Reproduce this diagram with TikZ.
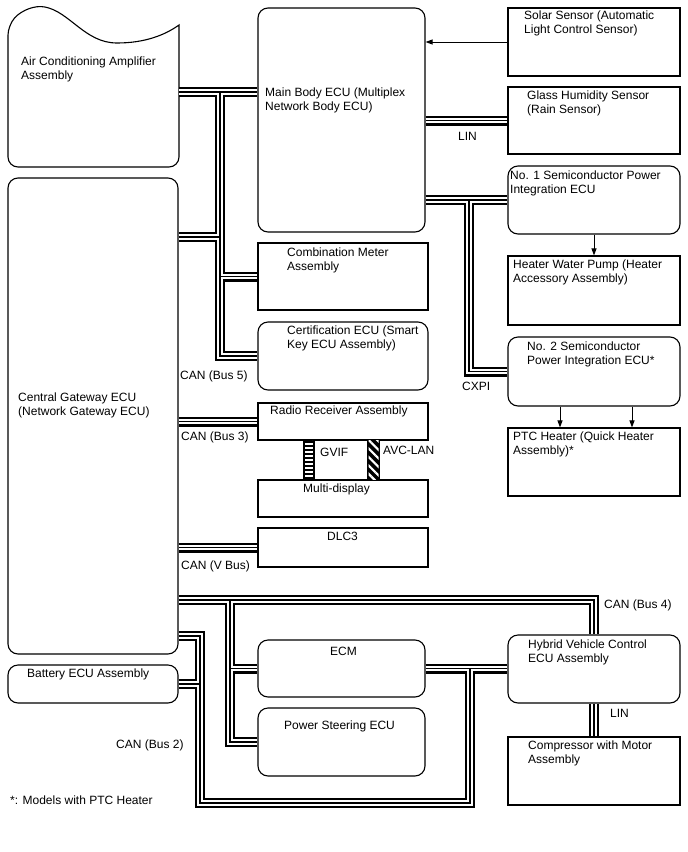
\documentclass[tikz,border=0pt]{standalone}
\usepackage{fontspec}
\setmainfont{Liberation Sans}
\usetikzlibrary{arrows.meta,patterns.meta}

\begin{document}
\begin{tikzpicture}[x=1pt,y=-1pt,font=\fontsize{12}{13.5}\selectfont,
  ecu/.style={draw,line width=1.1pt,rounded corners=10pt,minimum width=170pt,inner sep=0pt},
  unit/.style={draw,line width=1.1pt,minimum width=170pt,inner sep=0pt},
  lbl/.style={anchor=north west,inner sep=0pt,align=left},
  tag/.style={anchor=west,inner sep=0pt},
  sig/.style={line width=1pt,-{Triangle[length=7pt,width=5pt]}},
  busout/.style={line width=10pt},
  busin/.style={white,line width=5.2pt},
  buscore/.style={line width=1.4pt},
  gvifout/.style={line width=12pt},
  gvifin/.style={white,line width=8.5pt},
  gvifrung/.style={line width=8.5pt,dash pattern=on 2pt off 2pt},
]
\useasboundingbox (0,0) rectangle (688,852);
% left column
\node[inner sep=0pt,minimum width=171pt,minimum height=160pt] (acamp) at (93.5,88) {};
\draw[line width=1.1pt] (179,25) [rounded corners=10pt] -- (179,167) -- (8,167) -- (8,25) [sharp corners]
  .. controls (22,10) and (35,5) .. (45,7) .. controls (70,12) and (85,43) .. (117,43)
  .. controls (145,43) and (165,35) .. (179,25) -- cycle;
\node[ecu,minimum height=476pt] (cgw) at (93,416) {};
\node[ecu,minimum height=38pt] (batt) at (93,684) {};
% middle column
\node[ecu,minimum width=167pt,minimum height=224pt] (body) at (341.5,120) {};
\node[unit,minimum height=67pt] (meter) at (343,276.5) {};
\node[ecu,minimum height=68pt] (cert) at (343,356) {};
\node[unit,minimum height=37pt] (radio) at (343,421.5) {};
\node[unit,minimum height=37pt] (multi) at (343,498.5) {};
\node[unit,minimum height=39pt] (dlc) at (343,547.5) {};
\node[ecu,minimum width=167pt,minimum height=57pt] (ecm) at (341.5,668.5) {};
\node[ecu,minimum width=167pt,minimum height=68pt] (eps) at (341.5,742) {};
% right column
\node[unit,minimum width=172pt,minimum height=68pt] (solar) at (594,42) {};
\node[unit,minimum width=172pt,minimum height=67pt] (rain) at (594,120.5) {};
\node[ecu,minimum width=172pt,minimum height=68pt] (spi1) at (594,200) {};
\node[unit,minimum width=172pt,minimum height=69pt] (pump) at (594,290.5) {};
\node[ecu,minimum width=172pt,minimum height=69pt] (spi2) at (594,371.5) {};
\node[unit,minimum width=172pt,minimum height=68pt] (ptc) at (594,462) {};
\node[ecu,minimum width=172pt,minimum height=68pt] (hv) at (594,669) {};
\node[unit,minimum width=172pt,minimum height=68pt] (comp) at (594,771) {};
% box texts
\node[lbl] (t-acamp) at (21,57) {Air Conditioning Amplifier\\Assembly};
\node[lbl] (t-cgw) at (18,393) {Central Gateway ECU\\(Network Gateway ECU)};
\node[lbl] (t-batt) at (27,669) {Battery ECU Assembly};
\node[lbl] (t-body) at (265,88) {Main Body ECU (Multiplex\\Network Body ECU)};
\node[lbl] (t-meter) at (287,248) {Combination Meter\\Assembly};
\node[lbl] (t-cert) at (287,326) {Certification ECU (Smart\\Key ECU Assembly)};
\node[lbl] (t-radio) at (270,406) {Radio Receiver Assembly};
\node[lbl] (t-multi) at (303,484) {Multi-display};
\node[lbl] (t-dlc) at (327,532) {DLC3};
\node[lbl] (t-ecm) at (330,647) {ECM};
\node[lbl] (t-eps) at (284,721) {Power Steering ECU};
\node[lbl] (t-solar) at (524,11) {Solar Sensor (Automatic\\Light Control Sensor)};
\node[lbl] (t-rain) at (527,91) {Glass Humidity Sensor\\(Rain Sensor)};
\node[lbl] (t-spi1) at (510,171) {No. 1 Semiconductor Power\\Integration ECU};
\node[lbl] (t-pump) at (513,260) {Heater Water Pump (Heater\\Accessory Assembly)};
\node[lbl] (t-spi2) at (527,342) {No. 2 Semiconductor\\Power Integration ECU*};
\node[lbl] (t-ptc) at (513,432) {PTC Heater (Quick Heater\\Assembly)*};
\node[lbl] (t-hv) at (528,640) {Hybrid Vehicle Control\\ECU Assembly};
\node[lbl] (t-comp) at (528,741) {Compressor with Motor\\Assembly};
% buses (outer, white, core)
\foreach \lay in {busout,busin,buscore}
  \draw[\lay] (acamp.east |- 0,92) -- (body.west |- 0,92)
    (220,92) -- (220,356) -- (cert.west)
    (cgw.east |- 0,237) -- (220,237)
    (220,276.5) -- (meter.west)
    (cgw.east |- radio.west) -- (radio.west)
    (cgw.east |- dlc.west) -- (dlc.west)
    (body.east |- rain.west) -- (rain.west)
    (body.east |- spi1.west) -- (spi1.west)
    (469,200) -- (469,371.5) -- (spi2.west)
    (cgw.east |- 0,600) -- (hv.north |- 0,600) -- (hv.north)
    (230,600) -- (230,742) -- (eps.west)
    (230,668.5) -- (ecm.west)
    (cgw.east |- 0,636) -- (200,636) -- (200,803) -- (470,803) -- (470,668.5)
    (batt.east) -- (200,684)
    (ecm.east) -- (ecm.east -| hv.west)
    (hv.south) -- (comp.north);
% radio to display links
\foreach \lay in {gvifout,gvifin,gvifrung}
  \draw[\lay] ([xshift=-34pt]radio.south) -- ([xshift=-34pt]multi.north);
\fill ([xshift=24pt]radio.south) rectangle ([xshift=37pt]multi.north);
\fill[pattern={Lines[angle=-45,distance=6pt,line width=2.2pt]},pattern color=white]
  ([xshift=25.5pt]radio.south) rectangle ([xshift=35.5pt]multi.north);
% signal arrows
\draw[sig] (solar.west) -- (solar.west -| body.east);
\draw[sig] (spi1.south) -- (pump.north);
\draw[sig] ([xshift=-34pt]spi2.south) -- ([xshift=-34pt]ptc.north);
\draw[sig] ([xshift=38pt]spi2.south) -- ([xshift=38pt]ptc.north);
% bus names
\node[tag] (n-bus5) at (180,376) {CAN (Bus 5)};
\node[tag] (n-bus3) at (181,437) {CAN (Bus 3)};
\node[tag] (n-vbus) at (181,566) {CAN (V Bus)};
\node[tag] (n-lin1) at (458,136) {LIN};
\node[tag] (n-cxpi) at (462,386) {CXPI};
\node[tag] (n-gvif) at (320,452) {GVIF};
\node[tag] (n-avc) at (383,450) {AVC-LAN};
\node[tag] (n-bus4) at (604,605) {CAN (Bus 4)};
\node[tag] (n-bus2) at (116,745) {CAN (Bus 2)};
\node[tag] (n-lin2) at (610,713) {LIN};
\node[tag] (n-note) at (10,800) {*: Models with PTC Heater};
\end{tikzpicture}
\end{document}
